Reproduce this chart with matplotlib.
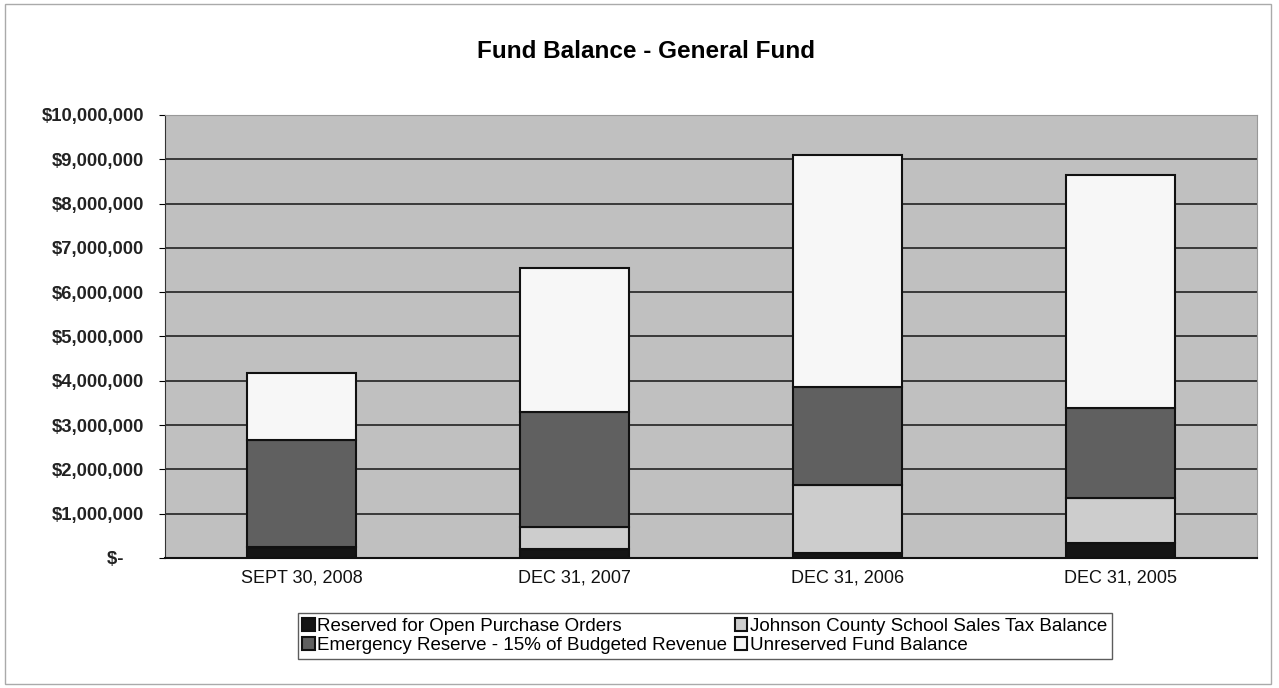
import matplotlib.pyplot as plt
import numpy as np

plt.rcParams['font.family'] = ['Liberation Sans', 'DejaVu Sans']

dates = ["SEPT 30, 2008", "DEC 31, 2007", "DEC 31, 2006", "DEC 31, 2005"]
reserved_po = [250000, 200000, 120000, 330000]
johnson_county = [0, 500000, 1530000, 1020000]
emergency = [2410000, 2600000, 2210000, 2040000]
unreserved = [1520000, 3250000, 5240000, 5260000]

yticks = [0, 1e6, 2e6, 3e6, 4e6, 5e6, 6e6, 7e6, 8e6, 9e6, 10e6]
ytick_labels = ["$-    ", "$1,000,000", "$2,000,000", "$3,000,000", "$4,000,000",
                "$5,000,000", "$6,000,000", "$7,000,000", "$8,000,000",
                "$9,000,000", "$10,000,000"]

fig = plt.figure(figsize=(12.79, 6.88), dpi=100)
ax = fig.add_axes([0.129, 0.189, 0.854, 0.644])
ax.set_facecolor('#c0c0c0')

x = np.arange(len(dates))
w = 0.4
b1 = np.array(reserved_po)
b2 = b1 + np.array(johnson_county)
b3 = b2 + np.array(emergency)

kw = dict(width=w, edgecolor='#111111', linewidth=1.5, zorder=3)
h1 = ax.bar(x, reserved_po, color='#151515', label='Reserved for Open Purchase Orders', **kw)
h3 = ax.bar(x, johnson_county, bottom=b1, color='#cdcdcd', label='Johnson County School Sales Tax Balance', **kw)
h2 = ax.bar(x, emergency, bottom=b2, color='#606060', label='Emergency Reserve - 15% of Budgeted Revenue', **kw)
h4 = ax.bar(x, unreserved, bottom=b3, color='#f7f7f7', label='Unreserved Fund Balance', **kw)

ax.set_xlim(-0.5, len(dates) - 0.5)
ax.set_ylim(0, 10e6)
ax.set_yticks(yticks)
ax.set_yticklabels(ytick_labels, fontsize=13.3, fontweight='bold', color='#222222')
ax.set_xticks(x)
ax.set_xticklabels(dates, fontsize=13, color='#111111')
ax.yaxis.grid(True, color='#222222', linewidth=1.2, zorder=1)
ax.set_axisbelow(True)
ax.tick_params(axis='x', length=0, pad=8)
ax.tick_params(axis='y', length=4, pad=11)
for s in ['top', 'right']:
    ax.spines[s].set_color('#999999')
ax.spines['left'].set_color('#333333')
ax.spines['bottom'].set_color('#111111')
ax.spines['bottom'].set_linewidth(1.5)

fig.text(0.505, 0.925, "Fund Balance - General Fund", ha='center', va='center',
         fontsize=17.5, fontweight='bold')

leg = fig.legend(handles=[h1, h2, h3, h4], ncol=2, loc='center',
                 bbox_to_anchor=(0.551, 0.0755), fontsize=13.5, frameon=True,
                 fancybox=False, edgecolor='#333333', handlelength=0.65,
                 handleheight=0.65, handletextpad=0.15, columnspacing=0.4,
                 borderpad=0.25, labelspacing=0.1, borderaxespad=0)
leg.get_frame().set_linewidth(1.0)

fig.patches.append(plt.Rectangle((0.004, 0.006), 0.99, 0.988, transform=fig.transFigure,
                                 fill=False, edgecolor='#aaaaaa', linewidth=1))

fig.savefig('out.png', dpi=100)
